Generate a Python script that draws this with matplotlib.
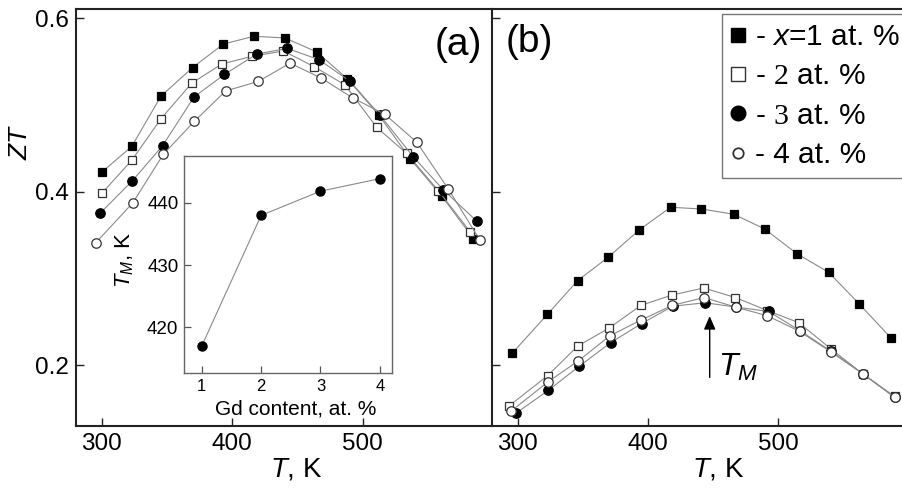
import matplotlib
matplotlib.use("Agg")
import matplotlib.pyplot as plt
from matplotlib.lines import Line2D

plt.rcParams['font.family'] = ['Liberation Sans', 'DejaVu Sans']
plt.rcParams['mathtext.fontset'] = 'custom'
plt.rcParams['mathtext.rm'] = 'Liberation Serif'
plt.rcParams['mathtext.it'] = 'Liberation Sans:italic'
plt.rcParams['mathtext.bf'] = 'Liberation Sans:bold'

# ---------------- data ----------------
# panel (a)
a_T1 = [300.5, 323, 345.4, 369.7, 393.2, 416.7, 440.5, 464.7, 488.2, 512.5, 536.3, 560.5, 584.8]
a_Z1 = [0.423, 0.452, 0.510, 0.543, 0.570, 0.579, 0.577, 0.561, 0.530, 0.488, 0.438, 0.395, 0.346]
a_T2 = [300, 323, 345.4, 369, 392, 415.4, 439.2, 462.7, 486.4, 510.7, 533.7, 558, 582.2]
a_Z2 = [0.398, 0.436, 0.484, 0.525, 0.547, 0.556, 0.562, 0.544, 0.523, 0.474, 0.444, 0.401, 0.354]
a_T3 = [298.7, 323.5, 346.7, 370.7, 394, 418.8, 442.2, 466.5, 490.3, 513.3, 538.8, 561.8, 587.4]
a_Z3 = [0.375, 0.4125, 0.453, 0.509, 0.535, 0.5585, 0.565, 0.552, 0.527, 0.488, 0.440, 0.402, 0.366]
a_T4 = [295.4, 323.8, 347.2, 371, 395, 420, 444.3, 468, 492.3, 517, 541.4, 565.6, 589.9]
a_Z4 = [0.341, 0.387, 0.443, 0.481, 0.516, 0.527, 0.548, 0.531, 0.508, 0.489, 0.457, 0.403, 0.344]

# panel (b)
b_T1 = [295.9, 322.8, 346.1, 369.7, 393.5, 417.5, 441.1, 465.9, 489.7, 514.5, 538.9, 562.1, 587]
b_Z1 = [0.214, 0.2585, 0.2975, 0.3246, 0.356, 0.382, 0.380, 0.374, 0.357, 0.3285, 0.307, 0.271, 0.231]
b_T2 = [293.3, 323, 346.1, 370.4, 394.7, 418.8, 442.9, 467.2, 491.8, 516, 540.4, 565.2, 589.6]
b_Z2 = [0.153, 0.188, 0.222, 0.243, 0.269, 0.281, 0.289, 0.278, 0.263, 0.249, 0.219, 0.190, 0.164]
b_T3 = [298.5, 323.5, 347.4, 371.4, 395.2, 419, 444.2, 467.4, 492.8, 516.6, 540.9, 565.2, 589.6]
b_Z3 = [0.1445, 0.171, 0.199, 0.226, 0.248, 0.268, 0.272, 0.267, 0.262, 0.240, 0.216, 0.190, 0.163]
b_T4 = [294.9, 323, 346.6, 370.9, 394.7, 418.8, 443.1, 467.4, 491.8, 516.6, 540.9, 565.2, 589.6]
b_Z4 = [0.147, 0.1805, 0.205, 0.234, 0.252, 0.269, 0.278, 0.267, 0.257, 0.239, 0.215, 0.190, 0.163]

# inset
gd_content = [1, 2, 3, 4]
T_M_vals = [417, 438, 441.9, 443.9]

legend_labels = [r'- $x$=1 at. %', r'- $\mathrm{2}$ at. %', r'- $\mathrm{3}$ at. %', '- 4 at. %']
x_ticks = [300, 400, 500]
y_ticks = [0.2, 0.4, 0.6]

# ---------------- styles ----------------
LC = '#8a8a8a'
styles = [dict(marker='s', mfc='black', mec='black'),
          dict(marker='s', mfc='white', mec='#333333'),
          dict(marker='o', mfc='black', mec='black'),
          dict(marker='o', mfc='white', mec='#333333')]
msizes = [6.0, 6.0, 6.8, 6.8]

W, H = 903, 488
fig = plt.figure(figsize=(W / 100, H / 100), dpi=100)

def fx(px):
    return px / W

def fy(py):
    return 1 - py / H

axL = fig.add_axes([fx(76), fy(426), fx(491) - fx(76), fy(9) - fy(426)])
axR = fig.add_axes([fx(492), fy(426), 1 - fx(492), fy(9) - fy(426)])

a_data = [(a_T1, a_Z1), (a_T2, a_Z2), (a_T3, a_Z3), (a_T4, a_Z4)]
b_data = [(b_T1, b_Z1), (b_T2, b_Z2), (b_T3, b_Z3), (b_T4, b_Z4)]

for ax, data in ((axL, a_data), (axR, b_data)):
    for (t, z), st, ms in zip(data, styles, msizes):
        ax.plot(t, z, color=LC, lw=0.8, ms=ms, mew=0.9, **st, zorder=3)
    ax.set_ylim(0.13, 0.6104)
    ax.set_yticks(y_ticks)
    ax.set_xticks(x_ticks)
    ax.tick_params(direction='in', length=6, width=1.0, labelsize=17.5, pad=5, color='#222222')
    for s in ax.spines.values():
        s.set_linewidth(1.5)
        s.set_color('#222222')
    ax.set_xlabel(r'$T$, K', fontsize=20)

axL.set_xlim(280.3, 598.3)
axR.set_xlim(280.3, 280.3 + 411 / 1.302)
axL.spines['right'].set_visible(False)
axR.spines['right'].set_visible(False)
axL.set_yticklabels(['0.2', '0.4', '0.6'])
axR.set_yticklabels([])
axL.set_ylabel(r'$ZT$', fontsize=19)
axL.yaxis.set_label_coords(-0.106, 0.681)
axL.xaxis.set_label_coords(0.53, -0.072)
axR.xaxis.set_label_coords(0.55, -0.072)

fig.text(fx(458), fy(45), '(a)', fontsize=28, ha='center', va='center')
fig.text(fx(529), fy(42), '(b)', fontsize=28, ha='center', va='center')

# T_M arrow
axR.annotate('', xy=(447.5, 0.2566), xytext=(447.5, 0.186),
             arrowprops=dict(arrowstyle='-|>,head_length=0.8,head_width=0.35',
                             color='black', lw=1.0, shrinkA=0, shrinkB=0))
axR.text(453.5, 0.197, r'$T_M$', fontsize=23, ha='left', va='center')

# legend
handles = [Line2D([], [], ls='none', marker='s', ms=9.5, mfc='black', mec='black'),
           Line2D([], [], ls='none', marker='s', ms=9.5, mfc='white', mec='#333333', mew=1.0),
           Line2D([], [], ls='none', marker='o', ms=10.5, mfc='black', mec='black'),
           Line2D([], [], ls='none', marker='o', ms=7.5, mfc='white', mec='#333333', mew=1.3)]
leg = axR.legend(handles, legend_labels, loc='upper left',
                 bbox_to_anchor=(fx(722), fy(14)), bbox_transform=fig.transFigure,
                 fontsize=21.5, frameon=True, fancybox=False, borderpad=0.3,
                 labelspacing=0.38, handlelength=0.5, handletextpad=0.3,
                 borderaxespad=0)
leg.get_frame().set_edgecolor('#777777')
leg.get_frame().set_linewidth(1.0)
leg.get_frame().set_alpha(1)

# inset
axI = fig.add_axes([fx(184), fy(373.3), fx(392.3) - fx(184), fy(155.7) - fy(373.3)])
axI.plot(gd_content, T_M_vals, color=LC, lw=0.8, marker='o', ms=6.5, mfc='black', mec='black')
axI.set_xlim(0.70, 4.21)
axI.set_ylim(412.6, 447.6)
axI.set_xticks(gd_content)
axI.set_yticks([420, 430, 440])
axI.tick_params(direction='in', length=5, width=0.9, color='#555555', pad=4)
axI.tick_params(axis='x', labelsize=12)
axI.tick_params(axis='y', labelsize=13.5)
for s in axI.spines.values():
    s.set_linewidth(1.0)
    s.set_color('#666666')
axI.set_xlabel('Gd content, at. %', fontsize=15)
axI.set_ylabel(r'$T_M$, K', fontsize=16)
axI.xaxis.set_label_coords(0.538, -0.12)
axI.yaxis.set_label_coords(-0.23, 0.52)

fig.savefig('out.png', dpi=100)
